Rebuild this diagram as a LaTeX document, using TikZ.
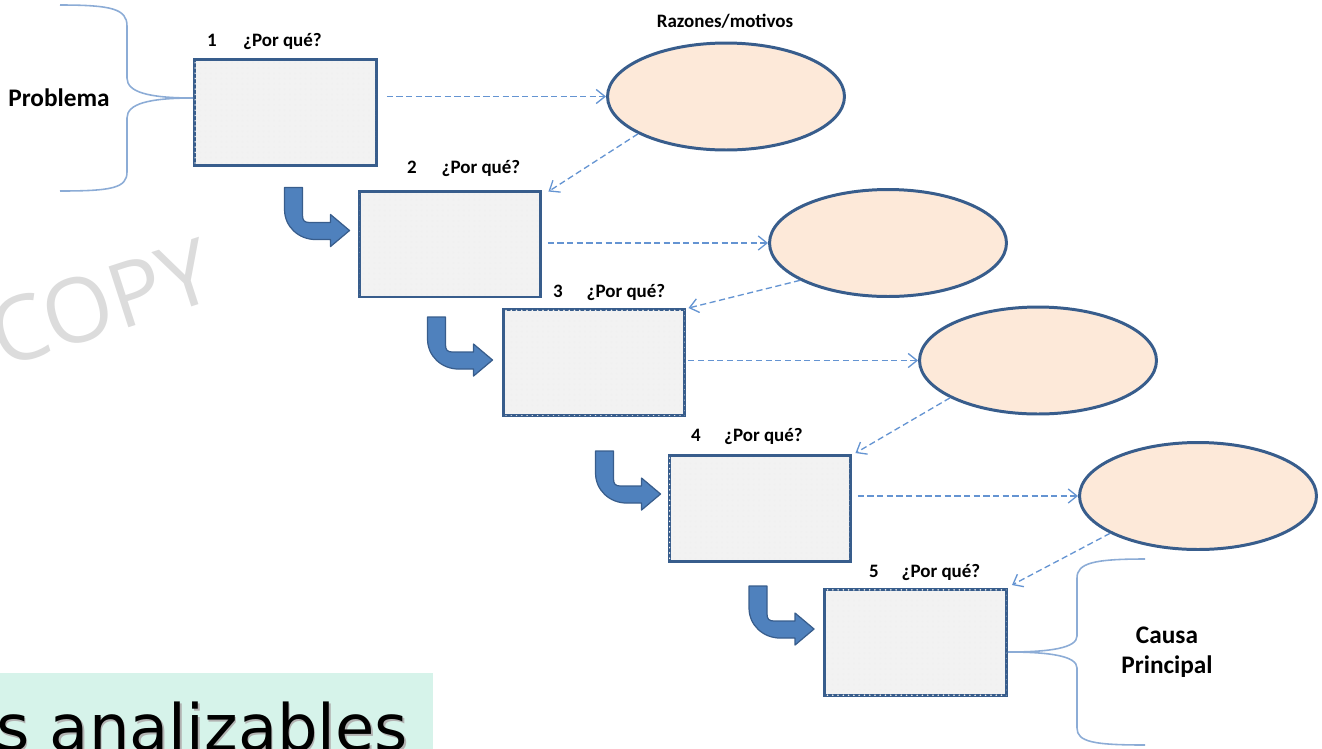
\documentclass[tikz,border=0pt]{standalone}
\usepackage{fontspec}
\setmainfont{Carlito}
\newfontfamily\slidefont{DejaVu Sans}
\newfontfamily\markfont{Open Sans}
\usepackage{tikz}
\usetikzlibrary{calc,arrows.meta,shapes.geometric,patterns}

\definecolor{boxline}{RGB}{56,93,140}
\definecolor{boxfill}{RGB}{242,242,242}
\definecolor{ovalfill}{RGB}{253,233,217}
\definecolor{turnblue}{RGB}{79,129,189}
\definecolor{dashblue}{RGB}{100,148,210}
\definecolor{bracecol}{RGB}{140,172,214}
\definecolor{mint}{RGB}{214,243,234}
\definecolor{markgray}{RGB}{220,220,220}

\tikzset{
  whybox/.style={draw=boxline, line width=1.7pt, fill=boxfill,
    postaction={pattern=dots, pattern color=black!6},
    minimum width=3.64cm, minimum height=2.12cm, inner sep=0pt},
  reason/.style={ellipse, draw=boxline, line width=1.7pt, fill=ovalfill,
    minimum width=4.74cm, minimum height=2.14cm, inner sep=0pt},
  lbl/.style={font=\bfseries\fontsize{10.8}{13}\selectfont, inner sep=0pt, anchor=base},
  side/.style={font=\bfseries\fontsize{14.4}{17}\selectfont, align=center, inner sep=0pt, anchor=base},
  dasharrow/.style={dashblue, line width=0.75pt, dash pattern=on 3.5pt off 2pt,
    -{Straight Barb[length=5pt,width=8pt]}},
  brace/.style={bracecol, line width=0.9pt},
  pics/turnarrow/.style={code={
    \filldraw[fill=turnblue, draw=boxline, line width=0.7pt, line join=round]
      (-65,43) -- (-47,43) -- (-47,15) .. controls (-47,10) and (-45,8) .. (-40,8)
      -- (-19,8) -- (-19,16) -- (0,0) -- (-19,-16) -- (-19,-9) -- (-34,-9)
      .. controls (-51,-9) and (-65,4) .. (-65,21) -- cycle;
  }}
}

\begin{document}
\begin{tikzpicture}[x=0.02cm, y=0.02cm]
    \useasboundingbox (0,0) rectangle (1322,-748);

    % watermark and slide strip
    \node[font=\markfont\fontsize{51}{53}\selectfont, text=markgray, rotate=18] (mark) at (101,-303) {COPY};
    \fill[mint] (0,-673) rectangle (433,-760);
    \node[font=\slidefont\fontsize{36.4}{40}\selectfont, anchor=base west, inner sep=0pt, text=black!30] (stripshade) at (-2.5,-752) {s analizables};
    \node[font=\slidefont\fontsize{36.4}{40}\selectfont, anchor=base west, inner sep=0pt] (strip) at (-4,-750) {s analizables};

    % the five why boxes
    \node[whybox] (b1) at (285.5,-112.5) {};
    \node[whybox] (b2) at (450,-244) {};
    \node[whybox] (b3) at (594,-362.5) {};
    \node[whybox] (b4) at (760,-508.5) {};
    \node[whybox] (b5) at (915.5,-642.5) {};

    % reasons
    \node[reason] (r1) at (726,-96.5) {};
    \node[reason] (r2) at (888,-243) {};
    \node[reason] (r3) at (1038,-360.5) {};
    \node[reason] (r4) at (1198,-496) {};

    \node[lbl] (n1) at (212,-46) {1};
    \node[lbl] (q1) at (282.5,-46) {¿Por qué?};
    \node[lbl] (n2) at (412,-173) {2};
    \node[lbl] (q2) at (481,-173) {¿Por qué?};
    \node[lbl] (n3) at (558,-297) {3};
    \node[lbl] (q3) at (626,-297) {¿Por qué?};
    \node[lbl] (n4) at (696,-441) {4};
    \node[lbl] (q4) at (763.5,-441) {¿Por qué?};
    \node[lbl] (n5) at (874,-577) {5};
    \node[lbl] (q5) at (941,-577) {¿Por qué?};
    \node[lbl] (razones) at (725,-27) {Razones/motivos};

    % bent arrows into the next box
    \pic at ($(b2.north west)+(-8,-41)$) {turnarrow};
    \pic at ($(b3.north west)+(-9,-52)$) {turnarrow};
    \pic at ($(b4.north west)+(-7,-40)$) {turnarrow};
    \pic at ($(b5.north west)+(-9,-41)$) {turnarrow};

    % dashed links
    \draw[dasharrow, shorten <=5pt] (b1.east |- r1.west) -- (r1.west);
    \draw[dasharrow, shorten <=3pt] (b2.east |- r2.west) -- (r2.west);
    \draw[dasharrow, shorten <=1pt] (b3.east |- r3.west) -- (r3.west);
    \draw[dasharrow, shorten <=3pt] (b4.east |- r4.west) -- (r4.west);
    \draw[dasharrow] (r1.-157) -- ($(b2.north east)+(6,-2)$);
    \draw[dasharrow] (r2.-157) -- ($(b3.north east)+(2,0)$);
    \draw[dasharrow] (r3.-157) -- ($(b4.north east)+(3,1)$);
    \draw[dasharrow] (r4.-157) -- ($(b5.north east)+(4,3)$);

    % braces
    \node[side] (prob) at (59,-106) {Problema};
    \coordinate (ptip) at ($(b1.west)+(0,14.5)$);
    \draw[brace] (60,-5) .. controls (112,-5) and (127,-9) .. (127,-26) -- (127,-78)
      .. controls (127,-92) and (148,-98) .. (ptip)
      .. controls (148,-98) and (127,-104) .. (127,-118) -- (127,-172)
      .. controls (127,-188) and (112,-191) .. (60,-191);

    \node[side] (causa) at (1167,-673) {Causa\\Principal};
    \coordinate (ctip) at ($(b5.east)+(0,-9.5)$);
    \draw[brace] (1145,-559) .. controls (1094,-559) and (1077,-563) .. (1077,-578) -- (1077,-636)
      .. controls (1077,-648) and (1050,-652) .. (ctip)
      .. controls (1050,-652) and (1077,-656) .. (1077,-668) -- (1077,-728)
      .. controls (1077,-742) and (1094,-745) .. (1145,-745);
\end{tikzpicture}
\end{document}
